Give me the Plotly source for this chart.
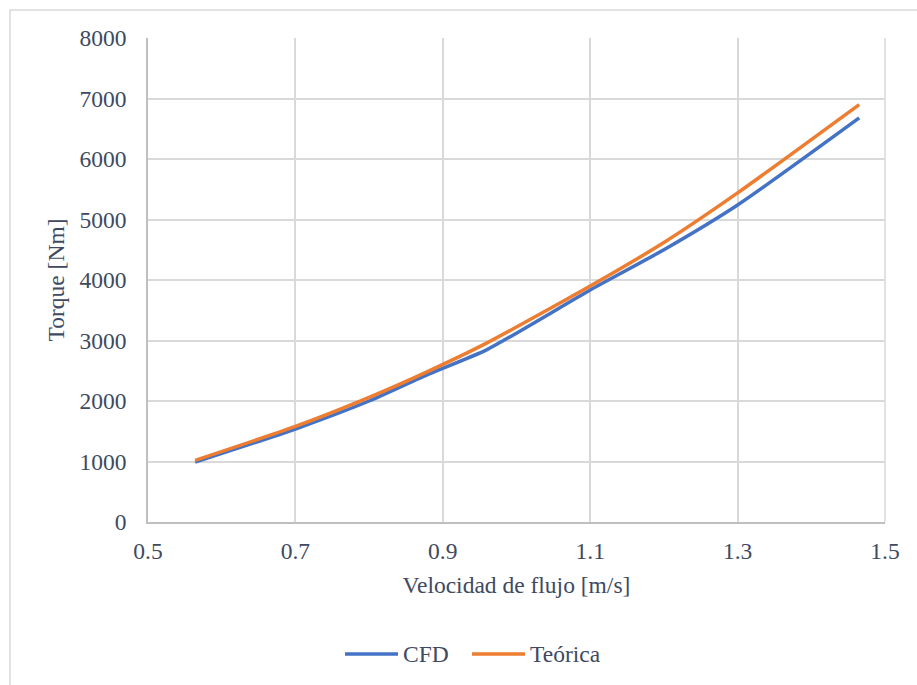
import plotly.graph_objects as go

# Flow velocity [m/s] and torque [Nm]
velocidad = [0.564, 0.70, 0.80, 0.88, 0.96, 1.10, 1.20, 1.30, 1.465]
torque_cfd = [990, 1537, 2000, 2440, 2850, 3835, 4500, 5240, 6680]
torque_teorica = [1020, 1580, 2060, 2490, 2960, 3900, 4620, 5440, 6900]

x_ticks = [0.5, 0.7, 0.9, 1.1, 1.3, 1.5]
y_ticks = [0, 1000, 2000, 3000, 4000, 5000, 6000, 7000, 8000]

series_names = ["CFD", "Teórica"]
series_colors = ["#4472C4", "#ED7D31"]

text_color = "#3E4A61"
grid_color = "#D9D9D9"
font_family = "'Liberation Serif', 'Times New Roman', serif"
font_size = 23.5

# plot-area geometry in pixels
W, H = 917, 685
L, R, T, B = 148, 32, 38, 163
pw, ph = W - L - R, H - T - B


def px_x(p):
    return (p - L) / pw


def px_y(p):
    return (H - B - p) / ph


fig = go.Figure()
for name, ys, col in zip(series_names, [torque_cfd, torque_teorica], series_colors):
    fig.add_trace(go.Scatter(
        x=velocidad, y=ys, name=name, mode="lines", showlegend=False,
        line=dict(color=col, width=3.5, shape="spline", smoothing=0.6),
    ))

shapes = [
    # chart area outline
    dict(type="rect", xref="paper", yref="paper",
         x0=px_x(10), x1=px_x(1000), y0=px_y(760), y1=px_y(10),
         line=dict(color="#D9D9D9", width=1.5), layer="below"),
    # right edge of the plotting region
    dict(type="line", xref="paper", yref="paper", x0=1, x1=1, y0=0, y1=1,
         line=dict(color=grid_color, width=1.5), layer="below"),
]
annotations = []

# legend below the axis title
legend_y = px_y(654)
legend_items = [(345, 398), (472, 525)]
for (x0, x1), name, col in zip(legend_items, series_names, series_colors):
    shapes.append(dict(type="line", xref="paper", yref="paper",
                       x0=px_x(x0), x1=px_x(x1), y0=legend_y, y1=legend_y,
                       line=dict(color=col, width=3.5)))
    annotations.append(dict(text=name, xref="paper", yref="paper",
                            x=px_x(x1 + 3), y=legend_y, xanchor="left", yanchor="middle",
                            showarrow=False,
                            font=dict(family=font_family, size=font_size, color=text_color)))

fig.update_layout(
    width=W, height=H,
    margin=dict(l=L, r=R, t=T, b=B),
    paper_bgcolor="white", plot_bgcolor="white",
    font=dict(family=font_family, size=font_size, color=text_color),
    showlegend=False,
    xaxis=dict(
        range=[0.5, 1.5], tickvals=x_ticks, ticktext=[f"{v:g}" for v in x_ticks],
        showgrid=True, gridcolor=grid_color, gridwidth=1.5,
        showline=True, linecolor="#BFBFBF", linewidth=1.5,
        zeroline=False, ticks="", ticklabelstandoff=7,
        tickfont=dict(family=font_family, size=font_size, color=text_color),
        title=dict(text="Velocidad de flujo [m/s]", standoff=14,
                   font=dict(family=font_family, size=font_size, color=text_color)),
    ),
    yaxis=dict(
        range=[0, 8000], tickvals=y_ticks, ticktext=[str(v) for v in y_ticks],
        showgrid=True, gridcolor=grid_color, gridwidth=1.5,
        showline=True, linecolor="#BFBFBF", linewidth=1.5,
        zeroline=False, ticks="", ticklabelstandoff=15,
        tickfont=dict(family=font_family, size=font_size, color=text_color),
        title=dict(text="Torque [Nm]", standoff=8,
                   font=dict(family=font_family, size=font_size, color=text_color)),
    ),
    shapes=shapes,
    annotations=annotations,
)

fig.write_html("out.html")
